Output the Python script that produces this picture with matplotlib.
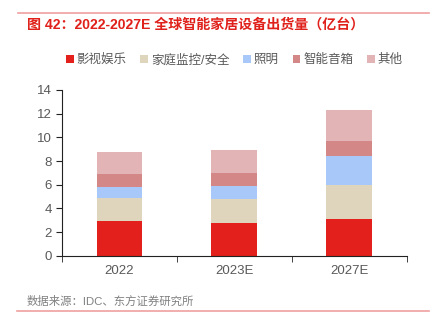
import matplotlib
matplotlib.use("Agg")
import matplotlib.pyplot as plt
import numpy as np

plt.rcParams["font.family"] = ["Liberation Sans", "Noto Sans CJK SC", "DejaVu Sans"]

# ---- data ----
years = ["2022", "2023E", "2027E"]
series_names = ["影视娱乐", "家庭监控/安全", "照明", "智能音箱", "其他"]
entertainment = [2.93, 2.79, 3.13]
security = [1.92, 2.00, 2.82]
lighting = [0.95, 1.13, 2.45]
speakers = [1.10, 1.07, 1.29]
others = [1.87, 1.91, 2.65]
colors = ["#e3201b", "#dfd5bd", "#a9c8fa", "#d48787", "#e2b4b6"]

TITLE = "图 42：2022-2027E 全球智能家居设备出货量（亿台）"
SOURCE = "数据来源：IDC、东方证券研究所"

fig = plt.figure(figsize=(4.31, 3.23), dpi=100)
ax = fig.add_axes([0.1439, 0.2083, 0.8, 0.5131])

x = np.arange(len(years))
bottom = np.zeros(len(years))
for name, vals, c in zip(series_names,
                         [entertainment, security, lighting, speakers, others],
                         colors):
    ax.bar(x, vals, width=0.4, bottom=bottom, color=c, label=name)
    bottom += np.array(vals)

ax.set_xlim(-0.5, len(years) - 0.5)
ax.set_ylim(0, 14)
ax.set_yticks(range(0, 15, 2))
ax.set_xticks(x)
ax.set_xticklabels(years)
ax.set_xticks(np.arange(-0.5, len(years), 1.0), minor=True)
ax.tick_params(axis="x", which="major", length=0, pad=7)
ax.tick_params(axis="x", which="minor", length=4, direction="out", color="#222222")
ax.tick_params(axis="y", length=4, direction="out", color="#222222")
ax.tick_params(labelsize=9.5, labelcolor="#595959")
for s in ["top", "right"]:
    ax.spines[s].set_visible(False)
ax.spines["left"].set_color("#222222")
ax.spines["bottom"].set_color("#222222")

ax.legend(loc="center", bbox_to_anchor=(0.5, 1.18), ncol=5, frameon=False,
          fontsize=9, handlelength=0.6, handleheight=0.6, handletextpad=0.25,
          columnspacing=1.1, labelcolor="#595959")

# title, source and rules
fig.text(27 / 431, 1 - 25 / 323, TITLE, fontsize=10.1, fontweight="bold",
         color="#e0201a", va="center", ha="left")
fig.add_artist(plt.Line2D([18 / 431, 429 / 431], [1 - 13 / 323, 1 - 13 / 323],
                          color="#f0a0a0", linewidth=1.2))
fig.text(27 / 431, 1 - 301.5 / 323, SOURCE, fontsize=8.2, color="#808080",
         va="center", ha="left")
fig.add_artist(plt.Line2D([17 / 431, 429 / 431], [1 - 311 / 323, 1 - 311 / 323],
                          color="#f0a0a0", linewidth=1.2))

plt.savefig("out.png", dpi=100)
